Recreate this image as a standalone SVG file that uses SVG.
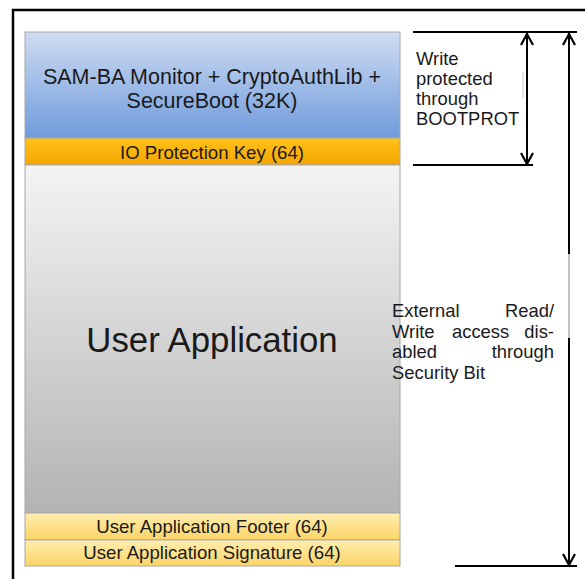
<svg xmlns="http://www.w3.org/2000/svg" width="585" height="579" viewBox="0 0 585 579">
<defs>
<linearGradient id="gBlue" x1="0" y1="0" x2="0" y2="1"><stop offset="0" stop-color="#cfdcf2"/><stop offset="1" stop-color="#6f9bdb"/></linearGradient>
<linearGradient id="gOrange" x1="0" y1="0" x2="0" y2="1"><stop offset="0" stop-color="#ffc21a"/><stop offset="1" stop-color="#f6a500"/></linearGradient>
<linearGradient id="gGray" x1="0" y1="0" x2="0" y2="1"><stop offset="0" stop-color="#f4f4f4"/><stop offset="1" stop-color="#b3b3b3"/></linearGradient>
<linearGradient id="gYellow" x1="0" y1="0" x2="0" y2="1"><stop offset="0" stop-color="#ffeeb0"/><stop offset="1" stop-color="#fcd467"/></linearGradient>
<style>
.t{font-family:"Liberation Sans",Arial,sans-serif;fill:#1a1a1a}
.blk{stroke:#a8a8a8;stroke-width:1}
.ln{stroke:#000;stroke-width:2;fill:none}
.hd{stroke:#000;stroke-width:2.2;fill:none}
</style>
</defs>
<rect width="585" height="579" fill="#fff"/>
<path d="M13,579 V10 H585" fill="none" stroke="#000" stroke-width="2.5"/>
<g id="bootloader"><rect class="blk" x="25" y="32" width="375" height="106" fill="url(#gBlue)"/>
<text class="t" x="212" y="84" font-size="21.5" text-anchor="middle">SAM-BA Monitor + CryptoAuthLib +</text>
<text class="t" x="212" y="108" font-size="21.5" text-anchor="middle">SecureBoot (32K)</text></g>
<g id="iokey"><rect class="blk" x="25" y="138" width="375" height="27" fill="url(#gOrange)"/>
<text class="t" x="212" y="159" font-size="18.6" text-anchor="middle">IO Protection Key (64)</text></g>
<g id="userapp"><rect class="blk" x="25" y="165" width="375" height="348" fill="url(#gGray)"/>
<text class="t" x="212" y="352" font-size="34.8" text-anchor="middle">User Application</text></g>
<g id="footer"><rect class="blk" x="25" y="513" width="375" height="27" fill="url(#gYellow)"/>
<text class="t" x="212" y="533" font-size="18.6" text-anchor="middle">User Application Footer (64)</text></g>
<g id="signature"><rect class="blk" x="25" y="540" width="375" height="26" fill="url(#gYellow)"/>
<text class="t" x="212" y="559" font-size="18.6" text-anchor="middle">User Application Signature (64)</text></g>
<g id="connectors">
<line class="ln" x1="413" y1="32" x2="577" y2="32"/>
<line class="ln" x1="413" y1="165" x2="533" y2="165"/>
<line class="ln" x1="455" y1="566" x2="577" y2="566"/>
<line class="ln" x1="527" y1="33" x2="527" y2="164"/>
<path class="hd" d="M521,45 L527,34 L533,45"/>
<path class="hd" d="M521,153 L527,164 L533,153"/>
<line class="ln" x1="569" y1="33" x2="569" y2="565"/>
<path class="hd" d="M563,45 L569,34 L575,45"/>
<path class="hd" d="M563,554 L569,565 L575,554"/>
<line x1="523" y1="72" x2="523" y2="98" stroke="#c8c8c8" stroke-width="1"/>
<line x1="569" y1="254" x2="569" y2="338" stroke="#c4c4c4" stroke-width="2"/>
</g>
<g id="label-bootprot" class="t" font-size="18.4">
<text x="416" y="65">Write</text>
<text x="416" y="85">protected</text>
<text x="416" y="105">through</text>
<text x="416" y="125">BOOTPROT</text>
</g>
<g id="label-security" class="t" font-size="18.4">
<text x="392" y="317">External</text>
<text x="554" y="317" text-anchor="end">Read/</text>
<text x="392" y="338">Write</text>
<text x="452" y="338">access</text>
<text x="554" y="338" text-anchor="end">dis-</text>
<text x="392" y="358">abled</text>
<text x="554" y="358" text-anchor="end">through</text>
<text x="392" y="379">Security Bit</text>
</g>
</svg>
